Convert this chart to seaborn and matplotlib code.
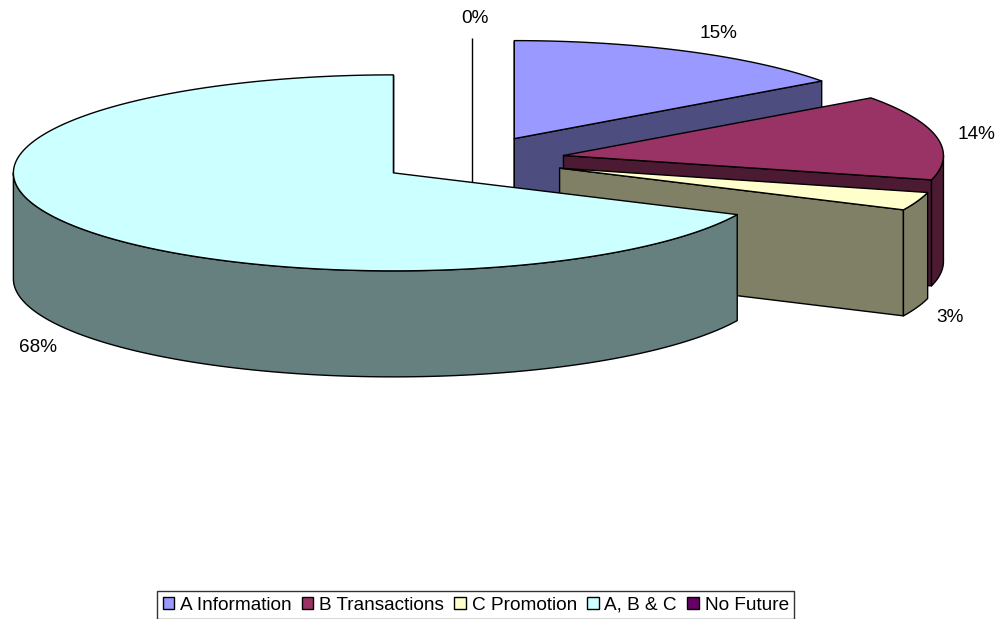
import numpy as np
import matplotlib
matplotlib.use("Agg")
import matplotlib.pyplot as plt
from matplotlib.patches import Polygon, Patch
import seaborn as sns

# ---- data ----
categories = ["A Information", "B Transactions", "C Promotion", "A, B & C", "No Future"]
values = [15, 14, 3, 68, 0]
pct_labels = ["15%", "14%", "3%", "68%", "0%"]
top_colors = ["#9999FF", "#993366", "#FFFFCC", "#CCFFFF", "#660066"]
side_colors = ["#4D4D80", "#4D1A33", "#808066", "#668080", "#330033"]

sns.set_theme(style="white")
plt.rcParams['font.family'] = ['Liberation Sans', 'DejaVu Sans']
plt.rcParams['text.color'] = 'black'

fig = plt.figure(figsize=(10.05, 6.19), dpi=100)
ax = fig.add_axes([0, 0, 1, 1])
ax.set_xlim(0, 1005)
ax.set_ylim(619, 0)
ax.axis('off')

# ---- 3D pie geometry ----
CX, CY = 472, 160
RA, RB = 380, 98
DEPTH = 106
EXPLODE = 0.245
LW = 1.0
FS = 13.7
# small label nudges (layout only), per slice index
LABEL_NUDGE = {0: (11, 0), 1: (-5, 1), 2: (-10, 4), 3: (4, 6), 4: (3, 0)}


def pt(cx, cy, th, dz=0.0):
    t = np.radians(th)
    return (cx + RA * np.sin(t), cy - RB * np.cos(t) + dz)


def arc(cx, cy, t1, t2, dz=0.0):
    ts = np.linspace(t1, t2, max(2, int(abs(t2 - t1) / 1.0) + 2))
    return [pt(cx, cy, t, dz) for t in ts]


total = float(sum(values))
starts = np.concatenate([[0], np.cumsum(values)[:-1]]) / total * 360.0
ends = np.cumsum(values) / total * 360.0

slices = []
for i in range(len(values)):
    t1, t2 = starts[i], ends[i]
    mid = np.radians((t1 + t2) / 2)
    cx = CX + EXPLODE * RA * np.sin(mid)
    cy = CY - EXPLODE * RB * np.cos(mid)
    slices.append((i, t1, t2, cx, cy))

# back-to-front order
slices.sort(key=lambda s: s[4])

z = 1
for i, t1, t2, cx, cy in slices:
    fc, sc = top_colors[i], side_colors[i]
    if t2 - t1 < 1e-9:
        # zero-size slice: seen edge-on as a single line
        p = pt(cx, cy, t1)
        ax.plot([p[0], p[0]], [p[1], cy + DEPTH], color='black', lw=LW,
                solid_capstyle='butt', zorder=z)
        z += 1
        continue
    # radial walls
    for t, visible in ((t1, np.sin(np.radians(t1)) <= 1e-9), (t2, np.sin(np.radians(t2)) >= -1e-9)):
        if visible:
            p = pt(cx, cy, t)
            poly = [(cx, cy), p, (p[0], p[1] + DEPTH), (cx, cy + DEPTH)]
            ax.add_patch(Polygon(poly, closed=True, facecolor=sc, edgecolor='black', lw=LW,
                                 joinstyle='round', zorder=z))
            z += 1
    # outer wall (front-facing part: 90..270)
    a1, a2 = max(t1, 90), min(t2, 270)
    if a2 > a1:
        up = arc(cx, cy, a1, a2)
        down = arc(cx, cy, a1, a2, DEPTH)[::-1]
        ax.add_patch(Polygon(up + down, closed=True, facecolor=sc, edgecolor='black', lw=LW,
                             joinstyle='round', zorder=z))
        z += 1
    # top face
    top = [(cx, cy)] + arc(cx, cy, t1, t2)
    ax.add_patch(Polygon(top, closed=True, facecolor=fc, edgecolor='black', lw=LW,
                         joinstyle='round', zorder=z))
    z += 1

# ---- percentage labels ----
KX, KY = 1.12, 1.2
for i, t1, t2, cx, cy in slices:
    mid = np.radians((t1 + t2) / 2)
    x = cx + KX * RA * np.sin(mid)
    y = cy - KY * RB * np.cos(mid)
    if np.cos(mid) < 0:
        y += DEPTH
    dx, dy = LABEL_NUDGE.get(i, (0, 0))
    ax.text(x + dx, y + dy, pct_labels[i], ha='center', va='center', fontsize=FS,
            color='black', zorder=z + 1)

# ---- legend ----
handles = [Patch(facecolor=c, edgecolor='black', lw=1.0) for c in top_colors]
leg = fig.legend(handles, categories, loc='upper left', bbox_to_anchor=(157 / 1005, 1 - 591 / 619),
                 ncol=5, fontsize=FS, frameon=True, fancybox=False, edgecolor='black',
                 handlelength=0.6, handleheight=0.6, handletextpad=0.3, columnspacing=0.55,
                 borderpad=0.3, borderaxespad=0, labelcolor='black')
leg.get_frame().set_linewidth(1.0)

fig.savefig("out.png", dpi=100, facecolor='white')
